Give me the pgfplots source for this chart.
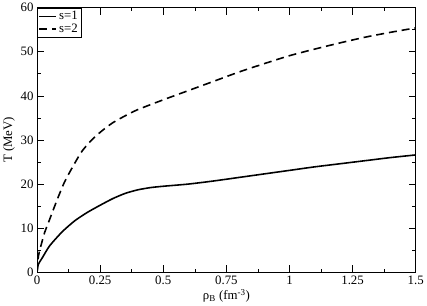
\documentclass[border=0pt]{standalone}
\usepackage{fontspec}
\setmainfont{Liberation Serif}
\usepackage{pgfplots}
\pgfplotsset{compat=1.18}
\begin{document}
\begin{tikzpicture}
\begin{axis}[
  scale only axis,
  width=382bp, height=267bp,
  xmin=0, xmax=1.5, ymin=0, ymax=60,
  xtick={0,0.25,0.5,0.75,1,1.25,1.5},
  xticklabels={0,0.25,0.5,0.75,1,1.25,1.5},
  ytick={0,10,20,30,40,50,60},
  minor x tick num=1, minor y tick num=1,
  tick align=inside,
  major tick length=7bp, minor tick length=3.5bp,
  tick style={black, line width=0.6pt},
  axis line style={line width=0.8pt},
  /pgf/number format/assume math mode=true,
  tick label style={font=\fontsize{13}{15}\selectfont},
  label style={font=\fontsize{13}{15}\selectfont},
  xlabel={ρ\textsubscript{B} (fm\textsuperscript{-3})},
  ylabel={T (MeV)},
  xlabel style={yshift=2bp},
  ylabel style={yshift=-1bp},
  legend cell align=left,
  legend style={at={(0,1)}, anchor=north west, draw=black,
    font=\fontsize{13}{14}\selectfont, inner sep=1.5pt, row sep=-1pt},
  legend image code/.code={\draw[#1, line width=1.5bp] (0bp,0bp) -- (17bp,0bp);},
]
\addplot[black, line width=1.6bp, smooth, tension=0.4] coordinates {
(0,0) (0.005,1.8) (0.02,3.2) (0.05,6) (0.1,9.2) (0.15,11.7) (0.2,13.6) (0.25,15.2) (0.3,16.7) (0.35,17.9) (0.4,18.7) (0.45,19.2) (0.5,19.5) (0.6,20.0) (0.7,20.7) (0.8,21.5) (0.9,22.3) (1.0,23.1) (1.1,23.9) (1.2,24.6) (1.3,25.3) (1.4,26.0) (1.5,26.6)
};
\addlegendentry{s=1}
\addplot[black, line width=1.6bp, dash pattern=on 8bp off 5bp, smooth, tension=0.4] coordinates {
(0,0) (0.005,3.5) (0.013,5.5) (0.03,9) (0.05,12) (0.08,16.5) (0.11,20.6) (0.15,24.8) (0.18,27.6) (0.22,30.2) (0.26,32.2) (0.3,33.9) (0.35,35.5) (0.4,36.9) (0.5,39.1) (0.6,41.2) (0.7,43.3) (0.8,45.4) (0.9,47.3) (1.0,49.1) (1.1,50.6) (1.2,52.0) (1.3,53.3) (1.4,54.4) (1.5,55.4)
};
\addlegendentry{s=2}
\end{axis}
\end{tikzpicture}
\end{document}
